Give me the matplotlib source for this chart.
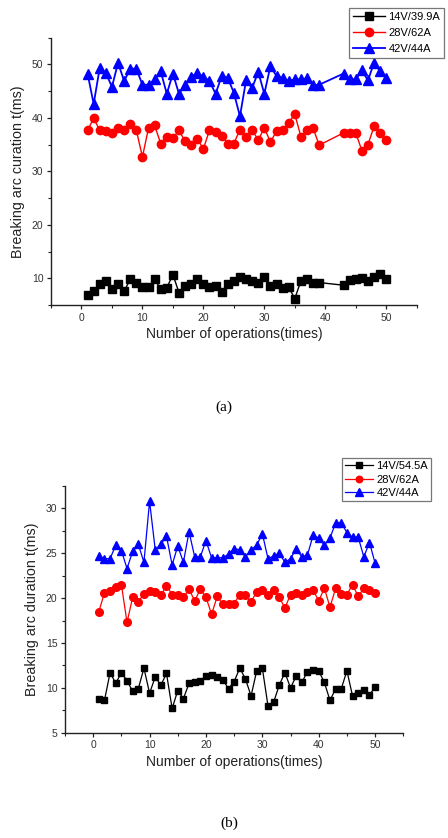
import matplotlib
matplotlib.use("Agg")
import matplotlib.pyplot as plt
from matplotlib.ticker import MultipleLocator

plt.rcParams['font.family'] = ['Liberation Sans', 'DejaVu Sans']

# ---------------- Panel (a) data ----------------
ops_a = list(range(1, 40)) + list(range(43, 51))
black_a = [6.85, 7.7, 8.9, 9.4, 7.9, 8.9, 7.6, 9.8, 9.2, 8.3, 8.3, 9.85, 8.0, 8.2, 10.7,
           7.3, 8.6, 8.9, 9.8, 8.9, 8.3, 8.5, 7.5, 8.9, 9.4, 10.2, 9.85, 9.4, 9.2, 10.3,
           8.6, 8.9, 8.2, 8.3, 6.2, 9.5, 9.85, 9.2, 9.2,
           8.7, 9.7, 9.8, 10.0, 9.4, 10.2, 10.8, 9.8]
red_a = [37.7, 39.9, 37.7, 37.5, 37.2, 38.1, 37.7, 38.9, 37.7, 32.7, 38.1, 38.6, 35.2,
         36.5, 36.2, 37.7, 35.6, 34.9, 36.1, 34.2, 37.7, 37.4, 36.7, 35.2, 35.2, 37.8,
         36.4, 37.7, 35.9, 38.1, 35.5, 37.5, 37.8, 39.1, 40.7, 36.5, 37.7, 38.1, 34.9,
         37.2, 37.2, 37.2, 33.9, 35.0, 38.4, 37.1, 35.8]
blue_a = [48.3, 42.6, 49.4, 48.4, 45.8, 50.3, 46.9, 49.2, 49.2, 46.2, 46.2, 47.2, 48.7,
          44.5, 48.3, 44.5, 46.2, 47.7, 48.4, 47.7, 46.9, 44.5, 47.8, 47.5, 44.7, 40.3,
          47.0, 45.6, 48.6, 44.5, 49.7, 47.8, 47.5, 46.9, 47.2, 47.2, 47.4, 46.1, 46.2,
          48.3, 47.2, 47.2, 48.9, 47.0, 50.3, 48.7, 47.5]
labels_a = ["14V/39.9A", "28V/62A", "42V/44A"]

# ---------------- Panel (b) data ----------------
ops_b = list(range(1, 51))
black_b = [8.8, 8.6, 11.7, 10.5, 11.7, 10.8, 9.6, 9.9, 12.2, 9.4, 11.2, 10.3, 11.6, 7.7,
           9.7, 8.8, 10.5, 10.7, 10.8, 11.3, 11.4, 11.2, 10.9, 9.9, 10.7, 12.2, 11.0, 9.1,
           11.9, 12.2, 8.0, 8.4, 10.3, 11.7, 10.0, 11.3, 10.6, 11.8, 12.0, 11.9, 10.6,
           8.6, 9.9, 9.9, 11.9, 9.1, 9.4, 9.8, 9.2, 10.1]
red_b = [18.5, 20.6, 20.8, 21.2, 21.5, 17.3, 20.1, 19.6, 20.5, 20.8, 20.7, 20.3, 21.4,
         20.4, 20.3, 20.1, 21.0, 19.7, 21.0, 20.1, 18.2, 20.2, 19.3, 19.4, 19.4, 20.4,
         20.3, 19.6, 20.7, 20.9, 20.3, 20.9, 20.1, 18.9, 20.4, 20.6, 20.4, 20.7, 20.9,
         19.7, 21.1, 19.0, 21.1, 20.5, 20.4, 21.5, 20.2, 21.1, 20.9, 20.6]
blue_b = [24.7, 24.4, 24.4, 25.9, 25.3, 23.3, 25.2, 26.0, 24.0, 30.8, 25.4, 26.0, 26.9,
          23.7, 25.8, 24.0, 27.4, 24.6, 24.6, 26.4, 24.5, 24.5, 24.5, 24.9, 25.5, 25.4,
          24.6, 25.4, 25.9, 27.2, 24.4, 24.7, 25.0, 24.0, 24.4, 25.5, 24.6, 24.8, 27.0,
          26.7, 25.9, 26.7, 28.4, 28.4, 27.3, 26.8, 26.8, 24.6, 26.2, 23.9]
labels_b = ["14V/54.5A", "28V/62A", "42V/44A"]

W, H = 448, 838
fig = plt.figure(figsize=(W / 100, H / 100), dpi=100)


def fx(px):
    return px / W


def fy(py):
    return 1 - py / H


def style_axes(ax):
    for s in ['top', 'right']:
        ax.spines[s].set_visible(False)
    for s in ['left', 'bottom']:
        ax.spines[s].set_linewidth(1.0)
        ax.spines[s].set_color('#222222')
    ax.tick_params(which='major', direction='out', length=3, width=0.9,
                   labelsize=7.5, labelcolor='#333333', color='#222222', pad=2.5)
    ax.tick_params(which='minor', direction='out', length=2, width=0.8, color='#222222')


# ---------- Panel (a) ----------
ax1 = fig.add_axes([fx(51), fy(305), fx(416.7 - 51), (305 - 37.7) / H])
style_axes(ax1)
ax1.plot(ops_a, black_a, color='black', marker='s', ms=5.5, lw=1.0, label=labels_a[0])
ax1.plot(ops_a, red_a, color='red', marker='o', ms=6, lw=1.0, label=labels_a[1])
ax1.plot(ops_a, blue_a, color='blue', marker='^', ms=6.8, lw=1.3, label=labels_a[2])
ax1.set_xlim(-5, 55)
ax1.set_ylim(5, 55)
ax1.xaxis.set_minor_locator(MultipleLocator(5))
ax1.yaxis.set_minor_locator(MultipleLocator(5))
ax1.set_xticks([0, 10, 20, 30, 40, 50])
ax1.set_yticks([10, 20, 30, 40, 50])
ax1.set_xlabel("Number of operations(times)", fontsize=10, color='#222222', labelpad=3)
ax1.set_ylabel("Breaking arc curation t(ms)", fontsize=10.3, color='#222222', labelpad=5)
leg1 = ax1.legend(loc='upper left', bbox_to_anchor=(fx(349), fy(8)),
                  bbox_transform=fig.transFigure, fontsize=8, frameon=True,
                  fancybox=False, edgecolor='#555555', borderpad=0.35,
                  labelspacing=0.55, handlelength=2.9, handletextpad=0.3,
                  borderaxespad=0, markerscale=1.0)
leg1.get_frame().set_linewidth(0.9)

fig.text(fx(224), fy(407), "(a)", ha='center', va='center', fontsize=11,
         family=['Liberation Serif', 'DejaVu Serif'])

# ---------- Panel (b) ----------
ax2 = fig.add_axes([fx(65), fy(732.7), fx(403.3 - 65), (732.7 - 486) / H])
style_axes(ax2)
ax2.plot(ops_b, black_b, color='black', marker='s', ms=5, lw=0.9, label=labels_b[0])
ax2.plot(ops_b, red_b, color='red', marker='o', ms=5.5, lw=0.9, label=labels_b[1])
ax2.plot(ops_b, blue_b, color='blue', marker='^', ms=6, lw=0.9, label=labels_b[2])
ax2.set_xlim(-5, 55)
ax2.set_ylim(5, 32.5)
ax2.xaxis.set_minor_locator(MultipleLocator(5))
ax2.yaxis.set_minor_locator(MultipleLocator(2.5))
ax2.set_xticks([0, 10, 20, 30, 40, 50])
ax2.set_yticks([5, 10, 15, 20, 25, 30])
ax2.set_xlabel("Number of operations(times)", fontsize=10, color='#222222', labelpad=3)
ax2.set_ylabel("Breaking arc duration t(ms)", fontsize=10.3, color='#222222', labelpad=5)
leg2 = ax2.legend(loc='upper left', bbox_to_anchor=(fx(342), fy(458)),
                  bbox_transform=fig.transFigure, fontsize=8, frameon=True,
                  fancybox=False, edgecolor='#555555', borderpad=0.3,
                  labelspacing=0.3, handlelength=2.5, handletextpad=0.3,
                  borderaxespad=0, markerscale=0.85)
leg2.get_frame().set_linewidth(0.9)

fig.text(fx(229), fy(823), "(b)", ha='center', va='center', fontsize=11,
         family=['Liberation Serif', 'DejaVu Serif'])

fig.savefig("out.png", dpi=100, facecolor='white')
